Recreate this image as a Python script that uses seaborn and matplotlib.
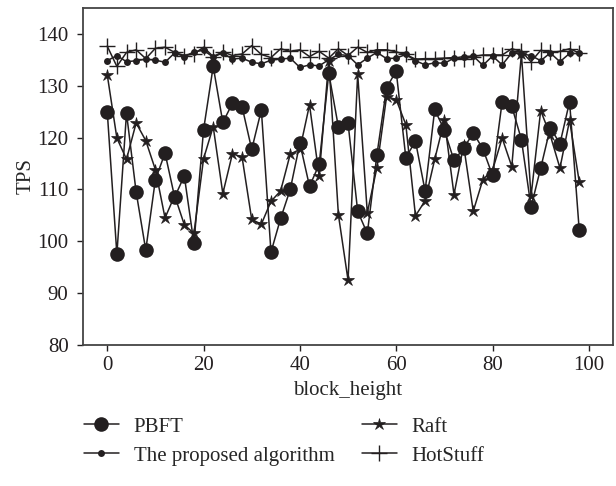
import matplotlib
matplotlib.use("Agg")
import matplotlib.pyplot as plt
import seaborn as sns
import pandas as pd

# block heights at which throughput was sampled
block_height = list(range(0, 100, 2))

tps_pbft = [125.0, 97.5, 124.7, 109.5, 98.3, 111.9, 117.0, 108.5, 112.6, 99.6,
            121.5, 133.7, 122.9, 126.6, 125.9, 117.7, 125.3, 97.9, 104.4, 110.0,
            118.9, 110.6, 114.8, 132.4, 122.0, 122.8, 105.8, 101.5, 116.7, 129.6,
            132.8, 116.1, 119.3, 109.7, 125.4, 121.4, 115.6, 117.9, 120.9, 117.8,
            112.7, 126.9, 126.0, 119.6, 106.6, 114.1, 121.9, 118.8, 126.9, 102.2]

tps_raft = [132.1, 119.9, 115.8, 122.8, 119.4, 113.8, 104.5, 108.8, 103.2, 101.5,
            115.9, 122.1, 109.2, 116.9, 116.2, 104.2, 103.3, 107.7, 109.7, 116.8,
            117.7, 126.3, 112.6, 134.8, 105.1, 92.5, 132.2, 105.5, 114.2, 127.9,
            127.3, 122.5, 104.9, 107.8, 115.8, 123.3, 109.0, 118.5, 105.8, 111.9,
            113.7, 119.9, 114.4, 136.1, 108.7, 125.2, 120.4, 114.1, 123.3, 111.5]

tps_proposed = [134.8, 135.8, 134.6, 134.8, 135.1, 134.9, 134.5, 136.3, 135.6, 136.5,
                136.8, 135.5, 136.3, 135.1, 135.3, 134.5, 134.2, 134.9, 135.1, 135.3,
                133.5, 134.0, 133.8, 135.0, 136.0, 135.8, 134.0, 135.3, 136.4, 135.2,
                135.3, 136.0, 134.8, 134.0, 134.4, 134.3, 135.3, 135.6, 135.7, 133.9,
                135.7, 134.0, 136.3, 136.1, 135.8, 134.8, 136.3, 134.6, 136.2, 136.2]

tps_hotstuff = [137.6, 133.7, 136.4, 136.9, 135.2, 137.2, 137.4, 136.4, 135.8, 136.1,
                137.4, 135.6, 136.5, 135.8, 136.1, 137.7, 136.0, 135.4, 137.1, 136.6,
                136.9, 135.6, 136.6, 135.3, 137.1, 135.8, 137.4, 136.4, 136.9, 136.9,
                136.5, 136.0, 135.1, 135.2, 135.2, 135.3, 135.4, 135.1, 135.6, 135.9,
                135.9, 135.9, 137.1, 136.6, 134.6, 136.8, 136.4, 136.6, 137.1, 136.3]

x_ticks = [0, 20, 40, 60, 80, 100]
y_ticks = [80, 90, 100, 110, 120, 130, 140]

sns.set_style("ticks")
plt.rcParams["font.family"] = ["Liberation Serif", "DejaVu Serif"]
plt.rcParams["font.size"] = 15

ink = "#231f20"
fig = plt.figure(figsize=(6.16, 4.86), dpi=100)
ax = fig.add_axes([0.135, 0.290, 0.860, 0.694])

df = pd.DataFrame({"block_height": block_height, "PBFT": tps_pbft, "Raft": tps_raft,
                   "The proposed algorithm": tps_proposed, "HotStuff": tps_hotstuff})

styles = {
    "The proposed algorithm": dict(marker="o", markersize=5, markeredgewidth=0),
    "HotStuff": dict(marker="+", markersize=11, markeredgewidth=1.0),
    "Raft": dict(marker="*", markersize=9, markeredgewidth=0.5),
    "PBFT": dict(marker="o", markersize=10.5, markeredgewidth=0),
}
for name, st in styles.items():
    sns.lineplot(data=df, x="block_height", y=name, ax=ax, color=ink, linewidth=1.1,
                 markeredgecolor=ink, markerfacecolor=ink, label=name, **st)

ax.set_xlim(-5, 105)
ax.set_ylim(80, 145)
ax.set_xticks(x_ticks)
ax.set_yticks(y_ticks)
ax.set_xlabel("block_height", fontsize=15, labelpad=4)
ax.set_ylabel("TPS", fontsize=15, labelpad=1)
ax.tick_params(axis="both", labelsize=15, length=4.5, width=1.0, color=ink, labelcolor=ink)
ax.tick_params(axis="y", pad=6)
for sp in ax.spines.values():
    sp.set_linewidth(1.3)
    sp.set_color("#444444")

handles, labels = ax.get_legend_handles_labels()
ax.get_legend().remove()
order = ["PBFT", "The proposed algorithm", "Raft", "HotStuff"]
hmap = dict(zip(labels, handles))
fig.legend([hmap[k] for k in order], order, loc="upper left",
           bbox_to_anchor=(0.136, 0.142), ncol=2, frameon=False, fontsize=15,
           handlelength=1.7, handletextpad=0.7, columnspacing=1.3,
           labelspacing=0.45, borderaxespad=0, borderpad=0)

fig.savefig("out.png", dpi=100)
